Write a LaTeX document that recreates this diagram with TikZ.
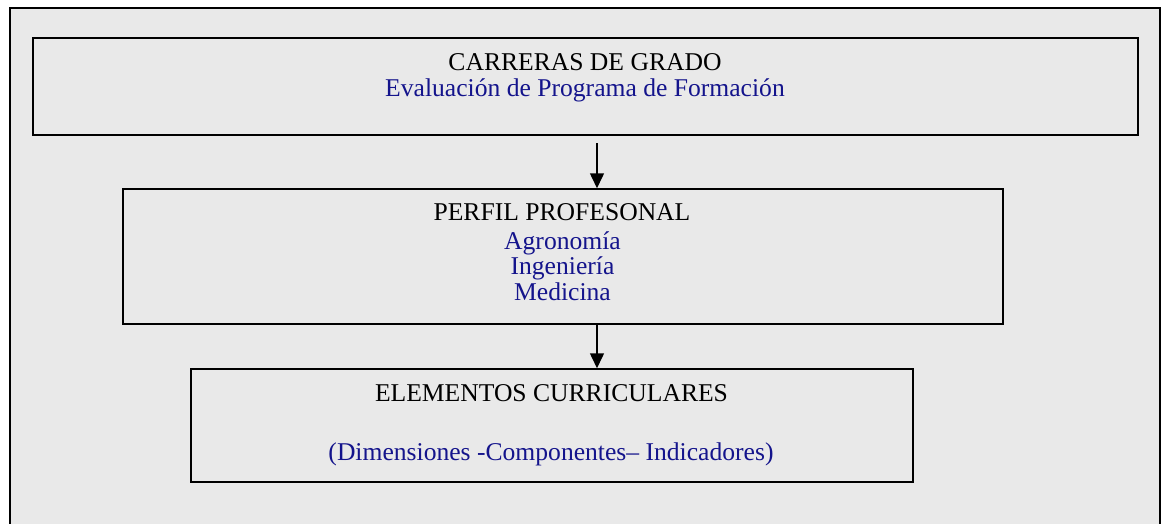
\documentclass[tikz,border=0pt]{standalone}
\usepackage{fontspec}
\setmainfont{Liberation Serif}
\usetikzlibrary{arrows.meta}
\definecolor{bgfill}{RGB}{233,233,233}
\definecolor{txtblue}{RGB}{20,20,140}
\tikzset{
  box/.style={draw=black, line width=1.5pt, inner sep=0pt},
  lbl/.style={anchor=base, inner sep=0pt, font=\fontsize{25.6pt}{30pt}\selectfont, text=black},
  sub/.style={lbl, text=txtblue},
  conn/.style={line width=1.5pt, -{Triangle[length=15pt,width=14pt]}}
}
\begin{document}
\begin{tikzpicture}[x=1pt,y=-1pt]
\useasboundingbox (0,0) rectangle (1162,523);
\fill[white] (0,0) rectangle (1162,523);
\fill[bgfill] (10,8) rectangle (1160,530);
\draw[line width=2pt] (10,530) -- (10,8) -- (1160,8) -- (1160,530);
% boxes
\node[box, minimum width=1105pt, minimum height=97pt] (top) at (585.5,86.5) {};
\node[box, minimum width=880pt, minimum height=135pt] (mid) at (563,256.5) {};
\node[box, minimum width=722pt, minimum height=113pt] (bot) at (552,425.5) {};
% texts
\node[lbl] (t1) at (585,70) {CARRERAS DE GRADO};
\node[sub] (t2) at (585,96.7) {Evaluación de Programa de Formación};
\node[lbl] (m1) at (562,220.7) {PERFIL PROFESONAL};
\node[sub] (m2) at (562.5,249) {Agronomía};
\node[sub] (m3) at (562.5,274) {Ingeniería};
\node[sub] (m4) at (562.5,300.7) {Medicina};
\node[lbl] (b1) at (551.5,401.7) {ELEMENTOS CURRICULARES};
\node[sub] (b2) at (551,460) {(Dimensiones -Componentes– Indicadores)};
% connectors
\coordinate (a1s) at (597,143);
\draw[conn] (a1s) -- (a1s |- mid.north);
\draw[conn] (mid.south -| a1s) -- (bot.north -| a1s);
\end{tikzpicture}
\end{document}
